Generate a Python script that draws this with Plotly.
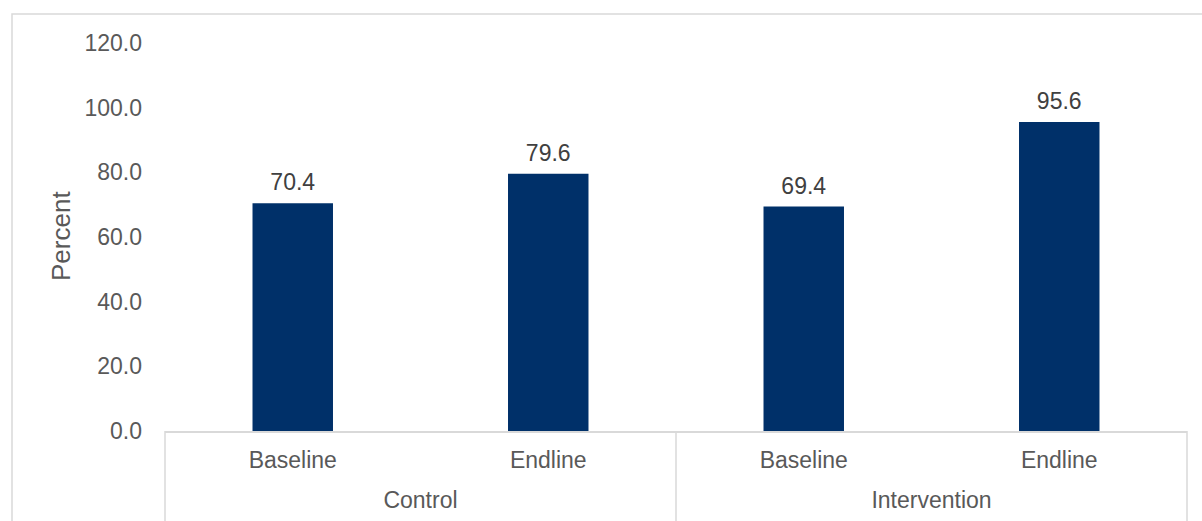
import plotly.graph_objects as go

groups = ["Control", "Control", "Intervention", "Intervention"]
phases = ["Baseline", "Endline", "Baseline", "Endline"]
values = [70.4, 79.6, 69.4, 95.6]
y_ticks = [0, 20, 40, 60, 80, 100, 120]
y_title = "Percent"

FONT = "Liberation Sans, Arial, sans-serif"
FS = 23
W, H = 1202, 521
L, R, T, B = 165, 15, 43, 90
pw, ph = W - L - R, H - T - B

def px_x(x):
    return (x - L) / pw

def px_y(y):
    return (H - B - y) / ph

keys = [f"{g} | {p}" for g, p in zip(groups, phases)]
group_names = list(dict.fromkeys(groups))

fig = go.Figure()
fig.add_trace(go.Bar(
    x=keys,
    y=values,
    marker=dict(color="#003069", line=dict(width=0)),
    width=0.315,
    hoverinfo="skip",
))
fig.add_trace(go.Scatter(
    x=keys,
    y=values,
    mode="markers+text",
    marker=dict(size=10, opacity=0),
    text=[f"{v:.1f}" for v in values],
    textposition="top center",
    textfont=dict(family=FONT, size=FS, color="#404040"),
    cliponaxis=False,
    hoverinfo="skip",
))
# invisible trace that carries the outer (group) level of the category axis
fig.add_trace(go.Scatter(
    x=group_names,
    y=[0] * len(group_names),
    xaxis="x2",
    mode="markers",
    marker=dict(size=1, opacity=0),
    hoverinfo="skip",
))

shapes = [
    dict(type="rect", xref="paper", yref="paper",
         x0=px_x(12), x1=px_x(W + 10), y0=px_y(H + 10), y1=px_y(14),
         line=dict(color="#d9d9d9", width=1.5), fillcolor="rgba(0,0,0,0)", layer="below"),
]
for xp in [0, 0.5, 1]:
    shapes.append(dict(type="line", xref="paper", yref="paper",
                       x0=xp, x1=xp, y0=0, y1=px_y(H + 5),
                       line=dict(color="#d9d9d9", width=1.5)))

fig.update_layout(
    width=W, height=H,
    margin=dict(l=L, r=R, t=T, b=B, pad=0),
    paper_bgcolor="white", plot_bgcolor="white",
    showlegend=False,
    font=dict(family=FONT, size=FS, color="#595959"),
    bargap=0.685,
    shapes=shapes,
    xaxis=dict(
        type="category",
        tickvals=keys, ticktext=phases,
        showline=True, linecolor="#d9d9d9", linewidth=1.5,
        showgrid=False, zeroline=False,
        ticks="", ticklen=0, ticklabelstandoff=8,
        tickfont=dict(family=FONT, size=FS, color="#595959"),
        automargin=False,
    ),
    xaxis2=dict(
        type="category",
        categoryorder="array", categoryarray=group_names,
        range=[-0.5, len(group_names) - 0.5],
        overlaying="x", side="bottom", anchor="y",
        showline=False, showgrid=False, zeroline=False,
        ticks="", ticklen=0, ticklabelstandoff=53,
        tickfont=dict(family=FONT, size=FS, color="#595959"),
        automargin=False,
    ),
    yaxis=dict(
        range=[0, 120],
        tickvals=y_ticks,
        ticktext=[f"{v:.1f}" for v in y_ticks],
        showgrid=False, zeroline=False, showline=False,
        ticks="", ticklabelstandoff=22,
        tickfont=dict(family=FONT, size=FS, color="#595959"),
        automargin=False,
    ),
    annotations=[dict(
        text=y_title, textangle=-90, showarrow=False,
        xref="paper", yref="paper", x=px_x(61), y=px_y(236),
        xanchor="center", yanchor="middle",
        font=dict(family=FONT, size=26, color="#595959"),
    )],
)

fig.write_html("out.html")
